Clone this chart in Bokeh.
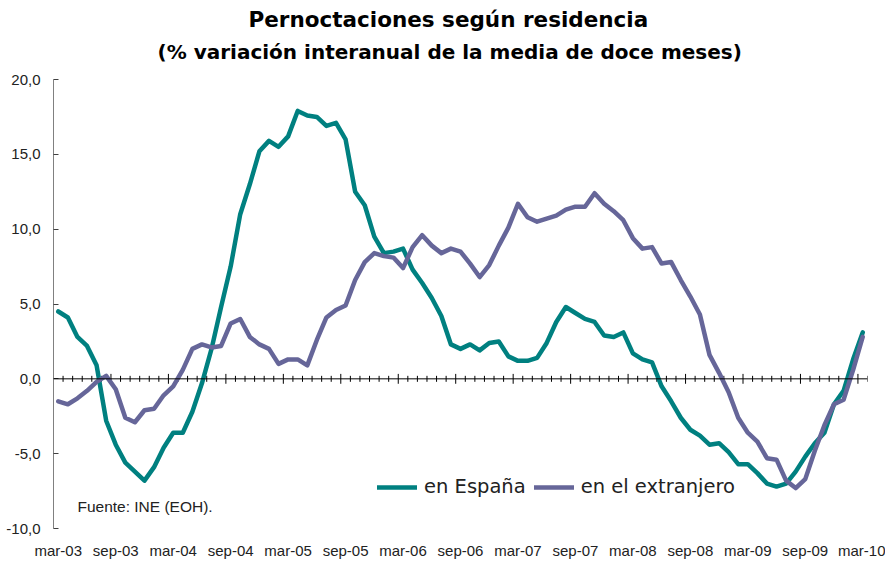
import numpy as np
from bokeh.plotting import figure
from bokeh.models import (FixedTicker, Span, Label, Title, Legend, LegendItem,
                          Range1d, ColumnDataSource)
from bokeh.embed import file_html
from bokeh.resources import INLINE

# ---- data -----------------------------------------------------------------
tick_labels = ["mar-03", "sep-03", "mar-04", "sep-04", "mar-05", "sep-05",
               "mar-06", "sep-06", "mar-07", "sep-07", "mar-08", "sep-08",
               "mar-09", "sep-09", "mar-10"]

espana = [4.5, 4.1, 2.8, 2.2, 0.9, -2.8, -4.4, -5.6, -6.2, -6.8,
          -5.9, -4.6, -3.6, -3.6, -2.2, -0.3, 2.0, 4.8, 7.5, 11.0,
          13.0, 15.2, 15.9, 15.5, 16.2, 17.9, 17.6, 17.5, 16.9, 17.1,
          16.0, 12.5, 11.6, 9.5, 8.4, 8.5, 8.7, 7.3, 6.4, 5.4,
          4.2, 2.3, 2.0, 2.3, 1.9, 2.4, 2.5, 1.5, 1.2, 1.2,
          1.4, 2.4, 3.8, 4.8, 4.4, 4.0, 3.8, 2.9, 2.8, 3.1,
          1.7, 1.3, 1.1, -0.5, -1.5, -2.6, -3.4, -3.8, -4.4, -4.3,
          -4.9, -5.7, -5.7, -6.3, -7.0, -7.2, -7.0, -6.2, -5.2, -4.3,
          -3.6, -1.7, -0.8, 1.3, 3.1]

extranjero = [-1.5, -1.7, -1.3, -0.8, -0.2, 0.2, -0.7, -2.6, -2.9, -2.1,
              -2.0, -1.1, -0.5, 0.6, 2.0, 2.3, 2.1, 2.2, 3.7, 4.0,
              2.8, 2.3, 2.0, 1.0, 1.3, 1.3, 0.9, 2.6, 4.1, 4.6,
              4.9, 6.6, 7.8, 8.4, 8.2, 8.1, 7.4, 8.8, 9.6, 8.9,
              8.4, 8.7, 8.5, 7.7, 6.8, 7.6, 8.9, 10.1, 11.7, 10.8,
              10.5, 10.7, 10.9, 11.3, 11.5, 11.5, 12.4, 11.7, 11.2, 10.6,
              9.4, 8.7, 8.8, 7.7, 7.8, 6.6, 5.5, 4.3, 1.6, 0.4,
              -0.9, -2.6, -3.6, -4.2, -5.3, -5.4, -6.8, -7.3, -6.7, -4.8,
              -3.1, -1.7, -1.4, 0.6, 2.8]

y_ticks = [-10, -5, 0, 5, 10, 15, 20]

# ---- derived --------------------------------------------------------------
n = len(espana)
x = list(range(n))
label_pos = list(range(0, n, 6))
bounds = np.arange(n + 1) - 0.5
major_b = [b for b in bounds if (b + 0.5) % 6 == 0]
minor_b = [b for b in bounds if (b + 0.5) % 6 != 0]

GREEN = "#008080"
PURPLE = "#666699"

p = figure(width=885, height=561, output_backend="svg", toolbar_location=None,
           x_range=Range1d(-0.5, n - 0.5), y_range=Range1d(-10, 20),
           min_border_left=53, min_border_right=18, min_border_top=79,
           min_border_bottom=30)
p.outline_line_color = None
p.grid.visible = False

# titles
p.add_layout(Title(text="(% variación interanual de la media de doce meses)",
                   align="left", text_font="DejaVu Sans",
                   text_font_size="20px", text_font_style="bold",
                   text_color="black", standoff=32, offset=104), "above")
p.add_layout(Title(text="Pernoctaciones según residencia",
                   align="left", text_font="DejaVu Sans",
                   text_font_size="21.5px", text_font_style="bold",
                   text_color="black", standoff=-20, offset=195), "above")

# y axis
p.yaxis.ticker = FixedTicker(ticks=y_ticks)
p.yaxis.major_label_overrides = {v: f"{v:.1f}".replace(".", ",") for v in y_ticks}
p.yaxis.axis_line_color = "#808080"
p.yaxis.major_tick_line_color = "#404040"
p.yaxis.major_tick_in = 5
p.yaxis.major_tick_out = 0
p.yaxis.minor_tick_line_color = None
p.yaxis.major_label_standoff = 13
p.yaxis.major_label_text_font = "Liberation Sans"
p.yaxis.major_label_text_font_size = "15px"
p.yaxis.major_label_text_color = "#222222"

# x axis (labels only at bottom)
p.xaxis.ticker = FixedTicker(ticks=label_pos)
p.xaxis.major_label_overrides = {pos: lab for pos, lab in zip(label_pos, tick_labels)}
p.xaxis.axis_line_color = None
p.xaxis.major_tick_line_color = None
p.xaxis.minor_tick_line_color = None
p.xaxis.major_label_standoff = 7
p.xaxis.major_label_text_font = "Liberation Sans"
p.xaxis.major_label_text_font_size = "15px"
p.xaxis.major_label_text_color = "#222222"

# zero line with month ticks
p.add_layout(Span(location=0, dimension="width", line_color="black", line_width=1))
p.segment(x0=minor_b, x1=minor_b, y0=[-0.2] * len(minor_b), y1=[0.2] * len(minor_b),
          line_color="black", line_width=1)
p.segment(x0=major_b, x1=major_b, y0=[-0.33] * len(major_b), y1=[0.33] * len(major_b),
          line_color="black", line_width=1)

src = ColumnDataSource(dict(x=x, espana=espana, extranjero=extranjero))
g = p.line("x", "espana", source=src, line_color=GREEN, line_width=4.5,
           line_join="round", line_cap="round")
pu = p.line("x", "extranjero", source=src, line_color=PURPLE, line_width=4.5,
            line_join="round", line_cap="round")

legend = Legend(items=[LegendItem(label="en España", renderers=[g]),
                       LegendItem(label="en el extranjero", renderers=[pu])],
                orientation="horizontal", location=(324, 30),
                padding=0, margin=0, spacing=8, label_standoff=7,
                glyph_width=40, glyph_height=20, label_height=20,
                label_text_font="DejaVu Sans", label_text_font_size="19.5px",
                label_text_color="#222222",
                background_fill_alpha=0, border_line_alpha=0)
p.add_layout(legend)

p.add_layout(Label(x=2.0, y=-8.5, text="Fuente: INE (EOH).",
                   text_font="Liberation Sans", text_font_size="15.5px",
                   text_baseline="middle", text_color="#222222"))

open("out.html", "w").write(file_html(p, INLINE))
